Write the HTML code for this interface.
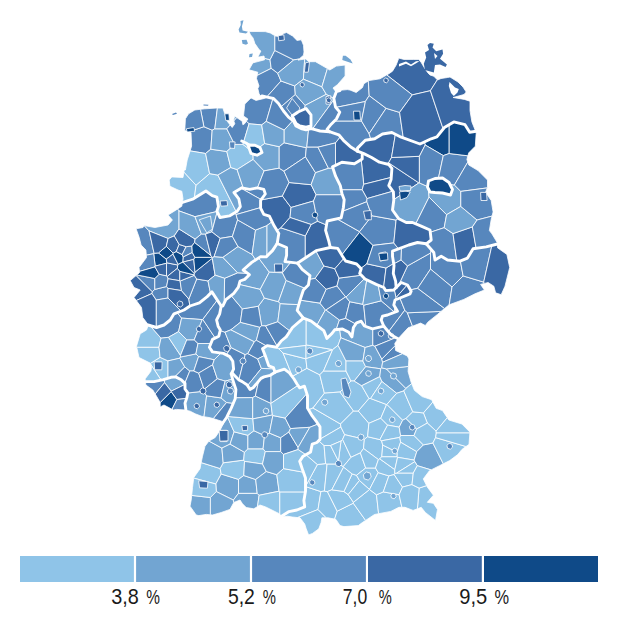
<!DOCTYPE html>
<html><head><meta charset="utf-8"><style>html,body{margin:0;padding:0;background:#fff;width:640px;height:640px;overflow:hidden}svg{display:block}</style></head>
<body><svg width="640" height="640" viewBox="0 0 640 640">
<g stroke="#fff" stroke-width="0.8" stroke-linejoin="round"><path d="M271.2,68.4 L270.0,59.7 L264.4,58.3 L264.6,59.8 L252.8,62.9 L249.0,69.8 L257.8,72.2 L257.1,75.5 L271.2,68.4Z" fill="#72a5d2"/><path d="M271.2,68.4 L277.7,73.3 L293.8,59.9 L274.7,50.4 L270.0,59.7 L271.2,68.4Z" fill="#5787bd"/><path d="M274.7,50.4 L293.8,59.9 L299.2,59.0 L303.5,55.2 L304.0,51.9 L303.5,45.3 L301.3,39.8 L297.0,40.4 L292.6,36.0 L286.5,32.5 L283.4,33.5 L280.2,36.6 L275.2,36.0 L274.7,35.6 L274.7,50.4Z" fill="#5787bd"/><path d="M259.0,57.0 L264.0,56.0 L264.4,58.3 L270.0,59.7 L274.7,50.4 L274.7,35.6 L270.2,32.9 L265.2,31.6 L256.0,31.5 L249.0,31.6 L250.5,34.8 L253.0,37.9 L254.9,43.5 L259.2,49.8 L260.9,51.0 L258.0,56.7 L259.0,57.0Z" fill="#72a5d2"/><path d="M281.0,81.0 L277.7,73.3 L271.2,68.4 L257.1,75.5 L256.5,78.5 L259.0,86.0 L257.8,88.5 L259.0,93.5 L260.0,95.5 L262.0,96.0 L266.7,97.1 L281.0,81.0Z" fill="#5787bd"/><path d="M302.8,126.6 L299.8,126.0 L296.0,123.5 L292.2,116.0 L298.0,112.0 L304.7,109.1 L305.1,105.4 L295.3,94.4 L280.8,106.9 L283.5,111.0 L288.5,117.2 L293.5,121.0 L296.0,126.0 L301.0,128.5 L302.6,128.9 L302.8,126.6Z" fill="#5787bd"/><path d="M266.7,97.1 L267.2,97.2 L273.5,98.5 L278.5,103.5 L280.8,106.9 L295.3,94.4 L294.7,85.9 L281.0,81.0 L266.7,97.1Z" fill="#5787bd"/><path d="M277.7,73.3 L281.0,81.0 L294.7,85.9 L303.4,79.2 L304.7,59.1 L298.0,60.1 L299.2,59.0 L293.8,59.9 L277.7,73.3Z" fill="#72a5d2"/><path d="M303.4,79.2 L321.9,86.9 L327.4,68.6 L315.5,61.7 L309.0,61.7 L305.7,59.0 L304.7,59.1 L303.4,79.2Z" fill="#72a5d2"/><path d="M295.3,94.4 L305.1,105.4 L326.3,94.3 L321.9,86.9 L303.4,79.2 L294.7,85.9 L295.3,94.4Z" fill="#72a5d2"/><path d="M304.7,109.1 L306.0,108.5 L311.0,114.8 L311.0,126.0 L306.0,127.2 L302.8,126.6 L302.6,128.9 L306.0,129.8 L311.0,128.5 L312.6,128.9 L334.0,99.6 L333.8,98.4 L333.8,98.3 L326.3,94.3 L305.1,105.4 L304.7,109.1Z" fill="#72a5d2"/><path d="M321.9,86.9 L326.3,94.3 L333.8,98.3 L336.2,92.2 L333.0,88.0 L337.4,84.7 L345.1,76.0 L345.1,65.0 L336.3,66.1 L329.8,70.0 L327.4,68.6 L321.9,86.9Z" fill="#72a5d2"/><path d="M312.6,128.9 L316.0,129.8 L320.0,131.0 L329.4,131.7 L327.0,129.4 L331.2,124.2 L336.4,119.0 L339.8,112.2 L335.5,107.0 L334.0,99.6 L312.6,128.9Z" fill="#5787bd"/><path d="M365.4,101.5 L369.2,95.6 L368.3,80.9 L363.8,83.8 L362.5,87.5 L356.2,92.5 L350.0,90.0 L347.3,89.6 L342.2,90.1 L339.8,90.7 L339.6,90.8 L336.3,92.4 L336.2,92.2 L333.8,98.4 L335.5,107.0 L335.9,107.4 L365.4,101.5Z" fill="#5787bd"/><path d="M369.1,133.7 L361.5,121.0 L334.4,121.0 L331.2,124.2 L327.0,129.4 L329.4,131.7 L338.8,134.8 L343.4,140.3 L351.2,147.3 L357.5,151.2 L357.5,148.1 L365.3,140.3 L370.9,139.4 L369.1,133.7Z" fill="#5787bd"/><path d="M412.3,94.9 L430.4,90.7 L437.3,79.8 L433.8,76.2 L430.0,75.0 L428.0,73.0 L425.0,68.8 L421.2,62.5 L418.8,59.4 L413.8,59.4 L403.8,59.4 L398.8,58.1 L396.2,65.0 L392.5,71.2 L388.8,73.8 L386.7,74.9 L412.3,94.9Z" fill="#3a68a4"/><path d="M365.4,101.5 L335.9,107.4 L339.8,112.2 L336.4,119.0 L334.4,121.0 L361.5,121.0 L365.4,101.5Z" fill="#5787bd"/><path d="M361.5,121.0 L369.1,133.7 L386.1,108.3 L369.2,95.6 L365.4,101.5 L361.5,121.0Z" fill="#5787bd"/><path d="M399.6,112.4 L386.1,108.3 L369.1,133.7 L370.9,139.4 L374.7,138.8 L382.5,134.0 L391.9,132.5 L401.2,137.2 L403.3,137.9 L399.6,112.4Z" fill="#5787bd"/><path d="M399.6,112.4 L412.3,94.9 L386.7,74.9 L380.0,78.8 L368.8,80.6 L368.3,80.9 L369.2,95.6 L386.1,108.3 L399.6,112.4Z" fill="#5787bd"/><path d="M430.4,90.7 L412.3,94.9 L399.6,112.4 L403.3,137.9 L420.0,144.0 L431.2,138.8 L436.9,136.9 L443.2,129.0 L430.4,90.7Z" fill="#3a68a4"/><path d="M430.4,90.7 L443.2,129.0 L444.4,127.5 L453.8,121.9 L465.0,124.7 L469.7,132.2 L475.6,131.3 L475.6,131.2 L471.9,121.9 L470.0,110.6 L470.0,101.2 L464.4,99.4 L453.1,97.5 L455.0,97.0 L464.0,94.5 L466.2,92.0 L463.0,87.0 L458.0,82.0 L450.0,77.0 L447.5,77.5 L441.0,78.5 L437.5,80.0 L437.3,79.8 L430.4,90.7Z" fill="#3a68a4"/><path d="M388.6,162.8 L391.5,157.5 L395.4,134.2 L391.9,132.5 L382.5,134.0 L374.7,138.8 L365.3,140.3 L357.5,148.1 L357.5,151.2 L362.2,153.0 L363.8,153.6 L371.6,157.5 L379.4,162.2 L386.4,163.9 L388.6,162.8Z" fill="#3a68a4"/><path d="M425.2,145.0 L443.3,155.6 L449.2,153.5 L449.2,124.6 L444.4,127.5 L436.9,136.9 L431.2,138.8 L424.3,142.0 L425.2,145.0Z" fill="#0f4a88"/><path d="M418.9,182.9 L388.6,162.8 L386.4,163.9 L388.8,164.5 L391.9,168.4 L391.1,179.4 L388.8,185.6 L393.4,191.9 L393.7,199.7 L418.9,182.9Z" fill="#3a68a4"/><path d="M418.9,182.9 L419.4,182.9 L419.4,156.3 L391.5,157.5 L388.6,162.8 L418.9,182.9Z" fill="#3a68a4"/><path d="M391.5,157.5 L419.4,156.3 L425.2,145.0 L424.3,142.0 L420.0,144.0 L401.2,137.2 L395.4,134.2 L391.5,157.5Z" fill="#3a68a4"/><path d="M429.1,197.1 L428.3,188.7 L427.5,187.0 L427.6,186.5 L419.4,182.9 L418.9,182.9 L393.7,199.7 L393.8,200.0 L392.5,210.0 L398.8,218.8 L406.2,222.5 L412.5,222.5 L415.7,223.9 L429.1,197.1Z" fill="#72a5d2"/><path d="M419.4,182.9 L427.6,186.5 L428.5,181.0 L435.0,178.5 L438.4,178.3 L443.3,155.6 L425.2,145.0 L419.4,156.3 L419.4,182.9Z" fill="#5787bd"/><path d="M415.7,223.9 L421.2,226.2 L430.0,230.0 L430.3,232.3 L444.2,227.7 L446.6,214.7 L429.1,197.1 L415.7,223.9Z" fill="#5787bd"/><path d="M446.6,214.7 L460.8,206.4 L460.8,191.4 L454.4,185.0 L449.9,184.4 L452.5,189.5 L450.5,195.0 L442.5,193.0 L435.0,192.5 L430.0,192.0 L428.3,188.7 L429.1,197.1 L446.6,214.7Z" fill="#72a5d2"/><path d="M453.0,233.6 L444.2,227.7 L430.3,232.3 L431.2,240.0 L426.2,243.8 L433.8,252.5 L435.0,260.0 L441.2,256.2 L447.5,260.0 L456.8,260.9 L453.0,233.6Z" fill="#5787bd"/><path d="M472.4,226.9 L453.0,233.6 L456.8,260.9 L460.0,261.2 L467.5,258.1 L473.1,248.8 L476.1,248.3 L472.4,226.9Z" fill="#3a68a4"/><path d="M446.6,214.7 L444.2,227.7 L453.0,233.6 L472.4,226.9 L477.1,220.0 L460.8,206.4 L446.6,214.7Z" fill="#72a5d2"/><path d="M438.4,178.3 L442.5,178.0 L449.0,182.5 L449.9,184.4 L454.4,185.0 L467.8,162.1 L466.9,159.4 L467.9,155.8 L449.2,153.5 L443.3,155.6 L438.4,178.3Z" fill="#5787bd"/><path d="M454.4,185.0 L460.8,191.4 L487.3,187.9 L487.5,187.5 L487.5,180.0 L478.1,170.6 L468.8,165.0 L467.8,162.1 L454.4,185.0Z" fill="#5787bd"/><path d="M449.2,153.5 L467.9,155.8 L468.8,152.8 L475.3,146.2 L476.2,133.1 L475.6,131.3 L469.7,132.2 L465.0,124.7 L453.8,121.9 L449.2,124.6 L449.2,153.5Z" fill="#0f4a88"/><path d="M460.8,191.4 L460.8,206.4 L477.1,220.0 L492.1,216.1 L493.1,211.9 L491.2,200.6 L485.6,192.2 L487.3,187.9 L460.8,191.4Z" fill="#5787bd"/><path d="M477.1,220.0 L472.4,226.9 L476.1,248.3 L486.2,246.9 L497.5,244.0 L497.5,243.1 L491.9,233.8 L489.4,230.6 L491.2,219.4 L492.1,216.1 L477.1,220.0Z" fill="#5787bd"/><path d="M404.8,310.2 L399.9,298.0 L395.0,300.0 L393.8,305.0 L397.5,311.2 L387.5,315.0 L382.5,316.2 L381.2,320.0 L383.8,326.2 L388.5,331.7 L404.8,310.2Z" fill="#5787bd"/><path d="M417.7,288.3 L430.5,269.1 L430.5,253.0 L407.5,265.9 L398.6,285.2 L401.2,282.5 L407.5,285.0 L410.4,289.9 L417.7,288.3Z" fill="#5787bd"/><path d="M401.1,260.0 L401.5,247.8 L392.5,251.2 L392.5,256.2 L393.7,264.0 L401.1,260.0Z" fill="#5787bd"/><path d="M407.5,265.9 L401.1,260.0 L393.7,264.0 L394.0,265.6 L393.3,273.4 L395.6,281.2 L396.2,287.5 L398.0,285.7 L398.6,285.2 L407.5,265.9Z" fill="#3a68a4"/><path d="M407.4,312.8 L404.8,310.2 L388.5,331.7 L391.2,335.0 L398.0,338.8 L408.1,327.8 L412.5,326.2 L407.4,312.8Z" fill="#5787bd"/><path d="M407.4,312.8 L412.5,326.2 L420.6,323.1 L425.3,325.5 L428.1,321.9 L437.5,314.4 L441.0,311.4 L407.4,312.8Z" fill="#5787bd"/><path d="M401.1,260.0 L407.5,265.9 L430.5,253.0 L431.4,249.8 L426.2,243.8 L417.5,242.5 L408.8,245.0 L401.5,247.8 L401.1,260.0Z" fill="#5787bd"/><path d="M430.5,269.1 L452.0,287.0 L463.1,275.9 L460.4,261.1 L460.0,261.2 L447.5,260.0 L441.2,256.2 L435.0,260.0 L433.8,252.5 L431.4,249.8 L430.5,253.0 L430.5,269.1Z" fill="#5787bd"/><path d="M404.8,310.2 L407.4,312.8 L441.0,311.4 L444.6,308.5 L417.7,288.3 L410.4,289.9 L411.2,291.2 L410.0,293.8 L401.2,297.5 L399.9,298.0 L404.8,310.2Z" fill="#5787bd"/><path d="M452.0,287.0 L430.5,269.1 L417.7,288.3 L444.6,308.5 L448.8,305.0 L449.2,304.8 L452.0,287.0Z" fill="#5787bd"/><path d="M483.7,282.1 L463.1,275.9 L452.0,287.0 L449.2,304.8 L463.8,299.4 L475.0,293.8 L484.4,290.0 L480.6,284.4 L484.6,283.4 L483.7,282.1Z" fill="#5787bd"/><path d="M463.1,275.9 L483.7,282.1 L491.9,245.5 L486.2,246.9 L473.1,248.8 L467.5,258.1 L460.4,261.1 L463.1,275.9Z" fill="#5787bd"/><path d="M483.7,282.1 L484.6,283.4 L488.1,282.5 L493.8,286.2 L495.6,292.8 L501.2,294.7 L505.0,286.2 L509.7,267.5 L506.9,254.4 L497.5,247.8 L497.5,244.0 L491.9,245.5 L483.7,282.1Z" fill="#3a68a4"/><path d="M292.4,376.3 L283.1,353.1 L278.7,348.7 L276.0,347.1 L267.2,345.6 L262.5,348.8 L265.6,356.6 L268.8,365.9 L273.4,367.5 L275.0,372.2 L284.4,369.1 L289.4,372.8 L292.2,376.6 L292.4,376.3Z" fill="#8fc4e8"/><path d="M318.0,509.5 L320.9,491.6 L305.5,486.5 L305.5,491.2 L303.9,500.6 L304.7,506.9 L296.9,510.0 L289.0,511.6 L281.2,516.5 L281.1,516.6 L281.2,517.0 L287.5,516.2 L292.2,517.0 L297.7,517.6 L318.0,509.5Z" fill="#8fc4e8"/><path d="M278.7,348.7 L306.0,345.5 L306.2,344.9 L306.2,319.2 L303.4,318.1 L292.5,327.5 L286.2,336.9 L281.2,341.0 L276.6,347.2 L276.0,347.1 L278.7,348.7Z" fill="#8fc4e8"/><path d="M292.2,376.6 L294.0,379.0 L297.0,384.0 L299.7,387.8 L304.4,386.2 L307.5,395.6 L307.5,408.1 L308.6,409.9 L313.0,408.0 L324.4,393.2 L319.8,374.8 L306.9,368.3 L292.4,376.3 L292.2,376.6Z" fill="#8fc4e8"/><path d="M292.4,376.3 L306.9,368.3 L305.9,358.8 L283.1,353.1 L292.4,376.3Z" fill="#8fc4e8"/><path d="M306.0,358.5 L306.0,345.5 L278.7,348.7 L283.1,353.1 L305.9,358.8 L306.0,358.5Z" fill="#8fc4e8"/><path d="M305.9,358.8 L306.9,368.3 L319.8,374.8 L323.5,371.0 L332.7,349.6 L306.0,358.5 L305.9,358.8Z" fill="#8fc4e8"/><path d="M340.8,337.8 L365.1,347.5 L372.8,345.3 L372.8,328.7 L372.5,328.8 L364.4,326.0 L361.2,321.2 L356.6,322.8 L353.4,327.5 L351.9,336.9 L348.8,332.2 L342.5,329.0 L339.4,329.3 L340.8,337.8Z" fill="#72a5d2"/><path d="M306.0,358.5 L332.7,349.6 L332.7,349.6 L306.2,344.9 L306.0,345.5 L306.0,358.5Z" fill="#8fc4e8"/><path d="M305.5,486.4 L305.5,486.5 L320.9,491.6 L324.4,491.1 L327.1,464.2 L325.6,463.6 L317.4,464.5 L305.5,486.4Z" fill="#8fc4e8"/><path d="M317.4,464.5 L306.0,454.7 L302.8,456.6 L299.7,461.2 L302.8,470.6 L305.5,478.0 L305.5,486.4 L317.4,464.5Z" fill="#8fc4e8"/><path d="M340.9,427.0 L340.5,424.0 L313.0,408.0 L308.6,409.9 L312.2,415.9 L316.9,422.2 L320.0,426.9 L320.0,439.2 L340.9,427.0Z" fill="#8fc4e8"/><path d="M318.0,509.5 L297.7,517.6 L300.0,517.8 L304.7,524.0 L306.2,528.8 L308.6,535.0 L312.5,533.4 L318.8,528.8 L321.1,522.5 L321.9,517.8 L326.3,517.8 L318.0,509.5Z" fill="#8fc4e8"/><path d="M320.9,491.6 L318.0,509.5 L326.3,517.8 L328.1,517.8 L334.6,519.1 L337.2,511.2 L327.4,491.6 L324.4,491.1 L320.9,491.6Z" fill="#8fc4e8"/><path d="M306.2,344.9 L332.7,349.6 L338.1,345.3 L340.8,337.8 L339.4,329.3 L334.7,329.8 L331.6,333.8 L326.9,338.4 L323.8,330.6 L317.5,326.0 L311.2,321.2 L306.2,319.2 L306.2,344.9Z" fill="#8fc4e8"/><path d="M324.4,393.2 L340.0,392.0 L351.0,381.0 L346.0,371.0 L323.5,371.0 L319.8,374.8 L324.4,393.2Z" fill="#8fc4e8"/><path d="M317.4,464.5 L325.6,463.6 L324.1,445.5 L318.6,440.8 L316.9,442.5 L312.2,444.1 L310.6,451.9 L306.0,454.7 L317.4,464.5Z" fill="#8fc4e8"/><path d="M332.7,349.6 L323.5,371.0 L346.0,371.0 L346.0,361.0 L338.1,345.3 L332.7,349.6 L332.7,349.6Z" fill="#8fc4e8"/><path d="M325.6,463.6 L327.1,464.2 L338.8,464.2 L338.4,461.0 L330.6,445.5 L324.1,445.5 L325.6,463.6Z" fill="#8fc4e8"/><path d="M324.1,445.5 L330.6,445.5 L341.0,441.0 L342.6,439.4 L344.7,434.7 L340.9,427.0 L320.0,439.2 L320.0,439.4 L318.6,440.8 L324.1,445.5Z" fill="#8fc4e8"/><path d="M353.3,503.2 L337.2,511.2 L334.6,519.1 L335.9,519.4 L340.0,525.6 L344.0,526.6 L358.3,525.6 L362.3,522.6 L365.6,520.4 L353.3,503.2Z" fill="#8fc4e8"/><path d="M338.8,464.2 L327.1,464.2 L324.4,491.1 L327.4,491.6 L331.8,489.8 L343.6,467.1 L343.3,466.5 L338.8,464.2Z" fill="#8fc4e8"/><path d="M343.3,466.5 L351.0,457.3 L342.6,439.4 L341.0,441.0 L338.4,461.0 L338.8,464.2 L343.3,466.5Z" fill="#8fc4e8"/><path d="M340.5,424.0 L353.5,411.0 L340.0,392.0 L324.4,393.2 L313.0,408.0 L340.5,424.0Z" fill="#8fc4e8"/><path d="M330.6,445.5 L338.4,461.0 L341.0,441.0 L330.6,445.5Z" fill="#8fc4e8"/><path d="M327.4,491.6 L337.2,511.2 L353.3,503.2 L353.4,502.3 L348.2,494.6 L343.9,491.5 L331.8,489.8 L327.4,491.6Z" fill="#8fc4e8"/><path d="M338.1,345.3 L346.0,361.0 L362.9,361.0 L365.1,347.5 L340.8,337.8 L338.1,345.3Z" fill="#72a5d2"/><path d="M351.0,381.0 L354.2,381.0 L365.7,366.7 L362.9,361.0 L346.0,361.0 L346.0,371.0 L351.0,381.0Z" fill="#8fc4e8"/><path d="M340.9,427.0 L344.7,434.7 L364.4,439.3 L367.6,436.7 L368.9,423.3 L358.3,411.0 L353.5,411.0 L340.5,424.0 L340.9,427.0Z" fill="#8fc4e8"/><path d="M348.2,494.6 L359.5,480.5 L356.5,475.3 L352.1,473.9 L343.9,491.5 L348.2,494.6Z" fill="#8fc4e8"/><path d="M331.8,489.8 L343.9,491.5 L352.1,473.9 L343.6,467.1 L331.8,489.8Z" fill="#8fc4e8"/><path d="M342.6,439.4 L351.0,457.3 L360.4,452.9 L363.5,448.5 L364.4,439.3 L344.7,434.7 L342.6,439.4Z" fill="#8fc4e8"/><path d="M343.3,466.5 L343.6,467.1 L352.1,473.9 L356.5,475.3 L365.7,468.0 L360.4,452.9 L351.0,457.3 L343.3,466.5Z" fill="#8fc4e8"/><path d="M353.4,502.3 L353.3,503.2 L365.6,520.4 L374.5,514.5 L378.6,513.7 L376.5,494.8 L369.5,489.5 L353.4,502.3Z" fill="#8fc4e8"/><path d="M369.5,489.5 L369.5,489.4 L359.5,480.5 L348.2,494.6 L353.4,502.3 L369.5,489.5Z" fill="#8fc4e8"/><path d="M353.5,411.0 L358.3,411.0 L369.0,398.5 L361.7,385.7 L354.2,381.0 L351.0,381.0 L340.0,392.0 L353.5,411.0Z" fill="#8fc4e8"/><path d="M363.5,448.5 L378.4,459.6 L379.7,458.8 L381.8,456.8 L382.7,445.0 L381.6,440.8 L379.9,439.6 L367.6,436.7 L364.4,439.3 L363.5,448.5Z" fill="#8fc4e8"/><path d="M365.7,366.7 L380.7,368.8 L381.7,367.8 L382.6,362.3 L381.8,359.0 L374.9,346.2 L372.8,345.3 L365.1,347.5 L362.9,361.0 L365.7,366.7Z" fill="#72a5d2"/><path d="M354.2,381.0 L361.7,385.7 L379.8,376.6 L380.7,368.8 L365.7,366.7 L354.2,381.0Z" fill="#72a5d2"/><path d="M356.5,475.3 L359.5,480.5 L369.5,489.4 L378.2,472.6 L375.5,468.0 L365.7,468.0 L356.5,475.3Z" fill="#8fc4e8"/><path d="M369.0,398.5 L370.6,398.5 L381.9,381.5 L379.8,376.6 L361.7,385.7 L369.0,398.5Z" fill="#8fc4e8"/><path d="M360.4,452.9 L365.7,468.0 L375.5,468.0 L378.4,459.6 L363.5,448.5 L360.4,452.9Z" fill="#8fc4e8"/><path d="M399.1,494.7 L383.3,491.9 L376.5,494.8 L378.6,513.7 L390.8,511.4 L398.9,507.3 L401.9,507.3 L399.1,494.7Z" fill="#8fc4e8"/><path d="M368.9,423.3 L380.8,418.2 L386.6,404.5 L370.6,398.5 L369.0,398.5 L358.3,411.0 L368.9,423.3Z" fill="#8fc4e8"/><path d="M369.5,489.4 L369.5,489.5 L376.5,494.8 L383.3,491.9 L388.9,475.9 L378.2,472.6 L369.5,489.4Z" fill="#8fc4e8"/><path d="M372.8,345.3 L374.9,346.2 L396.0,337.6 L391.2,335.0 L383.8,326.2 L372.8,328.7 L372.8,345.3Z" fill="#5787bd"/><path d="M381.8,359.0 L382.6,362.3 L402.5,353.7 L395.6,350.5 L395.1,345.7 L381.8,359.0Z" fill="#5787bd"/><path d="M379.8,376.6 L381.9,381.5 L396.7,393.3 L403.8,390.9 L405.9,388.4 L386.4,368.9 L381.7,367.8 L380.7,368.8 L379.8,376.6Z" fill="#72a5d2"/><path d="M386.6,404.5 L386.9,404.4 L396.7,393.3 L381.9,381.5 L370.6,398.5 L386.6,404.5Z" fill="#8fc4e8"/><path d="M375.5,468.0 L378.2,472.6 L388.9,475.9 L394.2,474.6 L394.8,473.5 L394.8,469.6 L379.7,458.8 L378.4,459.6 L375.5,468.0Z" fill="#8fc4e8"/><path d="M367.6,436.7 L379.9,439.6 L387.6,425.1 L380.8,418.2 L368.9,423.3 L367.6,436.7Z" fill="#8fc4e8"/><path d="M380.8,418.2 L387.6,425.1 L399.2,427.2 L402.7,420.2 L386.9,404.4 L386.6,404.5 L380.8,418.2Z" fill="#8fc4e8"/><path d="M381.8,359.0 L395.1,345.7 L394.8,343.4 L398.0,338.8 L396.0,337.6 L374.9,346.2 L381.8,359.0Z" fill="#5787bd"/><path d="M383.3,491.9 L399.1,494.7 L402.5,487.1 L394.2,474.6 L388.9,475.9 L383.3,491.9Z" fill="#8fc4e8"/><path d="M381.6,440.8 L399.8,437.4 L400.6,435.5 L399.2,427.2 L387.6,425.1 L379.9,439.6 L381.6,440.8Z" fill="#8fc4e8"/><path d="M381.8,456.8 L397.2,456.8 L397.2,452.2 L382.7,445.0 L381.8,456.8Z" fill="#8fc4e8"/><path d="M379.7,458.8 L394.8,469.6 L397.6,457.3 L397.2,456.8 L381.8,456.8 L379.7,458.8Z" fill="#8fc4e8"/><path d="M382.7,445.0 L397.2,452.2 L400.6,442.1 L399.8,437.4 L381.6,440.8 L382.7,445.0Z" fill="#8fc4e8"/><path d="M419.1,488.1 L417.4,508.8 L421.2,507.3 L425.3,512.4 L435.5,520.5 L437.5,509.4 L433.4,503.3 L427.3,502.3 L433.4,495.2 L427.3,487.0 L426.6,485.6 L419.1,488.1Z" fill="#8fc4e8"/><path d="M402.5,487.1 L412.0,484.6 L413.3,473.0 L396.8,473.0 L394.8,473.5 L394.2,474.6 L402.5,487.1Z" fill="#8fc4e8"/><path d="M423.4,412.9 L427.3,423.1 L436.1,431.1 L447.3,417.7 L442.5,410.6 L436.2,408.3 L432.8,402.0 L423.4,412.9Z" fill="#8fc4e8"/><path d="M405.9,388.4 L411.7,383.6 L411.2,382.5 L408.1,371.6 L408.4,366.4 L386.4,368.9 L405.9,388.4Z" fill="#72a5d2"/><path d="M381.7,367.8 L386.4,368.9 L408.4,366.4 L408.9,359.0 L407.3,356.0 L402.5,353.7 L382.6,362.3 L381.7,367.8Z" fill="#72a5d2"/><path d="M396.7,393.3 L386.9,404.4 L402.7,420.2 L406.0,418.5 L412.8,411.8 L403.8,390.9 L396.7,393.3Z" fill="#8fc4e8"/><path d="M397.6,457.3 L414.1,460.1 L416.8,451.6 L400.6,442.1 L397.2,452.2 L397.2,456.8 L397.6,457.3Z" fill="#8fc4e8"/><path d="M394.8,473.5 L396.8,473.0 L414.8,461.7 L414.1,460.1 L397.6,457.3 L394.8,469.6 L394.8,473.5Z" fill="#8fc4e8"/><path d="M400.6,435.5 L414.0,435.5 L416.6,429.1 L406.0,418.5 L402.7,420.2 L399.2,427.2 L400.6,435.5Z" fill="#72a5d2"/><path d="M406.0,418.5 L416.6,429.1 L427.3,423.1 L423.4,412.9 L412.8,411.8 L406.0,418.5Z" fill="#8fc4e8"/><path d="M399.8,437.4 L400.6,442.1 L416.8,451.6 L423.4,444.9 L414.0,435.5 L400.6,435.5 L399.8,437.4Z" fill="#8fc4e8"/><path d="M412.8,411.8 L423.4,412.9 L432.8,402.0 L431.6,399.7 L422.2,396.6 L414.4,390.3 L411.7,383.6 L405.9,388.4 L403.8,390.9 L412.8,411.8Z" fill="#8fc4e8"/><path d="M414.8,461.7 L417.3,465.7 L431.1,469.9 L439.5,465.7 L443.3,463.8 L432.9,443.0 L423.4,444.9 L416.8,451.6 L414.1,460.1 L414.8,461.7Z" fill="#72a5d2"/><path d="M399.1,494.7 L401.9,507.3 L405.0,507.3 L413.1,510.4 L417.4,508.8 L419.1,488.1 L412.0,484.6 L402.5,487.1 L399.1,494.7Z" fill="#8fc4e8"/><path d="M396.8,473.0 L413.3,473.0 L417.3,465.7 L414.8,461.7 L396.8,473.0Z" fill="#8fc4e8"/><path d="M413.3,473.0 L412.0,484.6 L419.1,488.1 L426.6,485.6 L423.3,478.9 L429.4,470.8 L431.1,469.9 L417.3,465.7 L413.3,473.0Z" fill="#8fc4e8"/><path d="M423.4,444.9 L432.9,443.0 L435.6,437.6 L436.3,433.0 L436.1,431.1 L427.3,423.1 L416.6,429.1 L414.0,435.5 L423.4,444.9Z" fill="#8fc4e8"/><path d="M436.1,431.1 L436.3,433.0 L469.9,433.0 L470.0,432.2 L461.9,424.0 L448.8,420.0 L447.3,417.7 L436.1,431.1Z" fill="#8fc4e8"/><path d="M435.6,437.6 L432.9,443.0 L443.3,463.8 L449.7,460.6 L457.8,454.5 L461.9,449.5 L466.0,446.5 L435.6,437.6Z" fill="#8fc4e8"/><path d="M436.3,433.0 L435.6,437.6 L466.0,446.5 L469.0,444.4 L469.9,433.0 L436.3,433.0Z" fill="#8fc4e8"/><path d="M210.4,497.5 L191.7,495.4 L191.2,500.0 L190.0,506.2 L196.2,515.0 L198.8,515.6 L206.2,514.4 L210.4,514.8 L210.4,497.5Z" fill="#72a5d2"/><path d="M215.8,484.0 L221.2,474.0 L220.1,468.5 L201.2,462.6 L200.0,468.8 L193.8,477.5 L193.7,478.1 L215.8,484.0Z" fill="#8fc4e8"/><path d="M215.8,484.0 L216.3,491.6 L233.4,500.1 L238.5,493.3 L238.5,479.4 L221.2,474.0 L215.8,484.0Z" fill="#72a5d2"/><path d="M210.4,497.5 L216.3,491.6 L215.8,484.0 L193.7,478.1 L192.5,487.5 L191.7,495.4 L210.4,497.5Z" fill="#8fc4e8"/><path d="M233.4,500.1 L216.3,491.6 L210.4,497.5 L210.4,514.8 L212.5,515.0 L221.2,512.5 L230.0,509.4 L233.8,502.5 L233.8,502.5 L233.4,500.1Z" fill="#72a5d2"/><path d="M221.2,474.0 L238.5,479.4 L243.8,475.5 L244.5,461.4 L243.7,460.1 L223.2,462.8 L220.1,468.5 L221.2,474.0Z" fill="#8fc4e8"/><path d="M220.1,468.5 L223.2,462.8 L221.9,448.1 L209.0,441.1 L208.8,441.2 L205.0,446.2 L202.5,456.2 L201.2,462.6 L220.1,468.5Z" fill="#72a5d2"/><path d="M233.4,500.1 L233.8,502.5 L240.0,500.0 L242.5,503.8 L246.2,507.5 L253.8,508.8 L257.5,506.5 L259.1,495.3 L257.2,493.3 L238.5,493.3 L233.4,500.1Z" fill="#72a5d2"/><path d="M221.9,448.1 L230.1,444.1 L234.1,431.8 L227.3,416.4 L227.2,416.3 L226.6,417.5 L223.3,422.2 L224.0,422.5 L220.2,430.0 L215.2,437.5 L209.0,441.1 L221.9,448.1Z" fill="#72a5d2"/><path d="M252.7,397.6 L255.4,396.0 L258.6,381.3 L253.1,387.8 L250.0,389.4 L246.9,384.7 L242.2,381.6 L239.0,380.0 L232.8,373.8 L231.2,373.8 L232.8,380.0 L235.9,389.4 L235.3,397.8 L252.7,397.6Z" fill="#5787bd"/><path d="M238.5,479.4 L238.5,493.3 L257.2,493.3 L255.7,479.5 L243.8,475.5 L238.5,479.4Z" fill="#72a5d2"/><path d="M223.2,462.8 L243.7,460.1 L244.4,452.2 L230.1,444.1 L221.9,448.1 L223.2,462.8Z" fill="#72a5d2"/><path d="M244.5,461.4 L262.5,464.0 L265.3,451.6 L263.1,448.8 L247.9,448.8 L244.4,452.2 L243.7,460.1 L244.5,461.4Z" fill="#8fc4e8"/><path d="M247.9,448.8 L247.9,435.3 L234.1,431.8 L230.1,444.1 L244.4,452.2 L247.9,448.8Z" fill="#72a5d2"/><path d="M243.8,475.5 L255.7,479.5 L266.3,471.5 L262.5,464.0 L244.5,461.4 L243.8,475.5Z" fill="#72a5d2"/><path d="M247.9,448.8 L263.1,448.8 L264.5,435.6 L253.9,430.7 L247.9,435.3 L247.9,448.8Z" fill="#72a5d2"/><path d="M247.9,435.3 L253.9,430.7 L252.9,418.9 L252.7,418.7 L227.3,416.4 L234.1,431.8 L247.9,435.3Z" fill="#8fc4e8"/><path d="M227.3,416.4 L252.7,418.7 L252.7,397.6 L235.3,397.8 L235.2,398.8 L231.2,408.1 L227.2,416.3 L227.3,416.4Z" fill="#72a5d2"/><path d="M265.3,451.6 L280.7,451.6 L280.7,437.8 L269.4,433.1 L264.5,435.6 L263.1,448.8 L265.3,451.6Z" fill="#72a5d2"/><path d="M257.2,493.3 L259.1,495.3 L279.1,491.2 L276.8,474.7 L266.3,471.5 L255.7,479.5 L257.2,493.3Z" fill="#72a5d2"/><path d="M279.8,491.9 L279.1,491.2 L259.1,495.3 L257.5,506.5 L260.0,505.0 L265.6,506.9 L279.7,513.9 L279.8,514.0 L279.8,491.9Z" fill="#8fc4e8"/><path d="M252.9,418.9 L272.4,415.0 L270.9,403.4 L270.8,403.3 L255.4,396.0 L252.7,397.6 L252.7,418.7 L252.9,418.9Z" fill="#72a5d2"/><path d="M264.5,435.6 L269.4,433.1 L272.9,415.5 L272.4,415.0 L252.9,418.9 L253.9,430.7 L264.5,435.6Z" fill="#72a5d2"/><path d="M266.3,471.5 L276.8,474.7 L283.5,468.6 L283.5,454.4 L280.7,451.6 L265.3,451.6 L262.5,464.0 L266.3,471.5Z" fill="#72a5d2"/><path d="M270.8,403.3 L270.9,403.4 L298.0,385.4 L297.0,384.0 L294.0,379.0 L289.4,372.8 L284.4,369.1 L275.0,372.2 L270.8,375.0 L270.8,403.3Z" fill="#72a5d2"/><path d="M270.8,403.3 L270.8,375.0 L270.3,375.3 L264.0,376.9 L261.0,378.4 L258.6,381.3 L255.4,396.0 L270.8,403.3Z" fill="#5787bd"/><path d="M279.8,491.9 L279.8,514.0 L281.1,516.6 L281.2,516.5 L289.0,511.6 L296.9,510.0 L304.7,506.9 L303.9,500.6 L305.4,491.9 L279.8,491.9Z" fill="#8fc4e8"/><path d="M279.8,491.9 L305.4,491.9 L305.5,491.2 L305.5,478.0 L303.4,472.2 L283.5,468.6 L276.8,474.7 L279.1,491.2 L279.8,491.9Z" fill="#8fc4e8"/><path d="M280.7,437.8 L288.9,432.1 L290.5,428.6 L285.2,418.1 L272.9,415.5 L269.4,433.1 L280.7,437.8Z" fill="#72a5d2"/><path d="M272.9,415.5 L285.2,418.1 L306.9,393.7 L304.4,386.2 L299.7,387.8 L298.0,385.4 L270.9,403.4 L272.4,415.0 L272.9,415.5Z" fill="#8fc4e8"/><path d="M283.5,454.4 L298.2,449.5 L298.1,447.5 L288.9,432.1 L280.7,437.8 L280.7,451.6 L283.5,454.4Z" fill="#5787bd"/><path d="M285.2,418.1 L290.5,428.6 L309.8,427.3 L318.1,424.0 L316.9,422.2 L312.2,415.9 L307.5,408.1 L307.5,395.6 L306.9,393.7 L285.2,418.1Z" fill="#5787bd"/><path d="M288.9,432.1 L298.1,447.5 L309.8,427.3 L290.5,428.6 L288.9,432.1Z" fill="#72a5d2"/><path d="M283.5,468.6 L303.4,472.2 L302.8,470.6 L299.7,461.2 L302.8,456.6 L306.0,454.7 L298.2,449.5 L283.5,454.4 L283.5,468.6Z" fill="#8fc4e8"/><path d="M309.8,427.3 L298.1,447.5 L298.2,449.5 L306.0,454.7 L310.6,451.9 L312.2,444.1 L316.9,442.5 L320.0,439.4 L320.0,426.9 L318.1,424.0 L309.8,427.3Z" fill="#72a5d2"/><path d="M150.3,363.4 L150.6,364.2 L161.2,380.2 L163.4,379.7 L168.0,378.2 L168.0,360.9 L160.1,357.3 L150.3,363.4Z" fill="#8fc4e8"/><path d="M160.1,357.3 L159.0,347.2 L136.7,347.2 L139.0,357.5 L150.2,363.1 L150.3,363.4 L160.1,357.3Z" fill="#8fc4e8"/><path d="M159.0,347.2 L161.0,338.2 L150.0,325.6 L148.4,325.1 L146.5,330.0 L140.2,333.8 L136.5,346.2 L136.7,347.2 L159.0,347.2Z" fill="#8fc4e8"/><path d="M161.0,338.2 L168.5,337.3 L178.6,331.6 L181.6,318.1 L177.1,312.6 L174.0,313.8 L170.2,320.0 L164.0,325.0 L156.5,327.5 L150.0,325.6 L161.0,338.2Z" fill="#5787bd"/><path d="M150.6,364.2 L151.5,367.5 L150.9,371.2 L145.2,378.8 L145.2,381.2 L145.3,381.6 L145.6,381.6 L154.1,381.6 L161.2,380.2 L150.6,364.2Z" fill="#8fc4e8"/><path d="M159.0,347.2 L160.1,357.3 L168.0,360.9 L179.8,358.2 L180.5,357.0 L180.5,355.4 L168.5,337.3 L161.0,338.2 L159.0,347.2Z" fill="#72a5d2"/><path d="M189.8,371.0 L184.7,366.8 L174.5,377.0 L175.6,376.9 L181.2,379.7 L184.8,383.3 L189.8,371.0Z" fill="#5787bd"/><path d="M168.0,378.2 L170.9,377.3 L174.5,377.0 L184.7,366.8 L179.8,358.2 L168.0,360.9 L168.0,378.2Z" fill="#72a5d2"/><path d="M181.6,318.1 L202.3,319.6 L202.8,319.4 L217.3,300.1 L215.0,296.6 L211.9,291.9 L207.2,296.6 L199.4,302.8 L190.0,306.0 L184.0,310.0 L177.1,312.6 L181.6,318.1Z" fill="#5787bd"/><path d="M180.5,355.4 L186.8,339.8 L178.6,331.6 L168.5,337.3 L180.5,355.4Z" fill="#8fc4e8"/><path d="M179.8,358.2 L184.7,366.8 L189.8,371.0 L193.8,371.0 L198.6,356.6 L195.9,353.9 L180.5,357.0 L179.8,358.2Z" fill="#72a5d2"/><path d="M180.5,355.4 L180.5,357.0 L195.9,353.9 L198.0,343.5 L194.2,339.8 L186.8,339.8 L180.5,355.4Z" fill="#5787bd"/><path d="M206.6,395.8 L203.6,391.2 L187.8,393.0 L186.9,397.5 L185.0,403.1 L185.9,410.0 L185.9,410.2 L190.2,411.2 L195.2,413.8 L201.5,416.2 L204.0,416.7 L206.6,395.8Z" fill="#72a5d2"/><path d="M198.6,356.6 L214.2,359.8 L220.9,353.1 L212.5,351.9 L209.4,347.2 L210.9,343.5 L198.0,343.5 L195.9,353.9 L198.6,356.6Z" fill="#72a5d2"/><path d="M186.8,339.8 L194.2,339.8 L202.3,319.6 L181.6,318.1 L178.6,331.6 L186.8,339.8Z" fill="#72a5d2"/><path d="M198.0,343.5 L210.9,343.5 L212.5,339.4 L215.2,338.0 L202.8,319.4 L202.3,319.6 L194.2,339.8 L198.0,343.5Z" fill="#5787bd"/><path d="M184.8,383.3 L185.0,383.4 L185.0,389.0 L187.8,392.8 L187.8,393.0 L203.6,391.2 L204.1,389.4 L198.7,373.1 L193.8,371.0 L189.8,371.0 L184.8,383.3Z" fill="#5787bd"/><path d="M193.8,371.0 L198.7,373.1 L212.6,364.8 L214.2,359.8 L198.6,356.6 L193.8,371.0Z" fill="#5787bd"/><path d="M204.0,416.7 L209.0,417.5 L213.4,418.6 L226.6,402.5 L221.0,397.9 L206.6,395.8 L204.0,416.7Z" fill="#72a5d2"/><path d="M198.7,373.1 L204.1,389.4 L217.3,378.8 L212.6,364.8 L198.7,373.1Z" fill="#5787bd"/><path d="M202.8,319.4 L215.2,338.0 L218.8,336.2 L220.3,330.0 L218.1,326.2 L216.6,320.0 L219.7,313.8 L221.2,306.0 L217.3,300.1 L202.8,319.4Z" fill="#5787bd"/><path d="M214.2,359.8 L212.6,364.8 L217.3,378.8 L225.2,381.1 L232.6,379.2 L231.2,373.8 L231.8,372.7 L233.6,369.1 L232.8,361.2 L229.7,356.6 L223.4,353.4 L220.9,353.1 L214.2,359.8Z" fill="#72a5d2"/><path d="M203.6,391.2 L206.6,395.8 L221.0,397.9 L225.2,381.1 L217.3,378.8 L204.1,389.4 L203.6,391.2Z" fill="#5787bd"/><path d="M226.6,402.5 L213.4,418.6 L214.0,418.8 L221.5,421.2 L223.3,422.2 L226.6,417.5 L231.2,408.1 L233.3,403.3 L226.6,402.5Z" fill="#5787bd"/><path d="M225.2,381.1 L221.0,397.9 L226.6,402.5 L233.3,403.3 L235.2,398.8 L235.9,389.4 L232.8,380.0 L232.6,379.2 L225.2,381.1Z" fill="#72a5d2"/><path d="M164.6,382.7 L164.2,379.5 L163.4,379.7 L154.1,381.6 L145.6,381.6 L145.3,381.6 L145.9,385.0 L152.8,390.0 L155.2,394.0 L164.6,382.7Z" fill="#5787bd"/><path d="M164.6,382.7 L171.2,391.2 L185.0,384.4 L185.0,383.4 L181.2,379.7 L175.6,376.9 L170.9,377.3 L164.2,379.5 L164.6,382.7Z" fill="#72a5d2"/><path d="M176.9,399.5 L171.2,391.5 L160.2,402.5 L160.2,406.9 L164.0,405.0 L172.0,409.3 L176.9,399.5Z" fill="#0f4a88"/><path d="M171.2,391.5 L171.2,391.2 L164.6,382.7 L155.2,394.0 L160.2,402.5 L171.2,391.5Z" fill="#3a68a4"/><path d="M171.2,391.2 L171.2,391.5 L176.9,399.5 L186.6,398.4 L186.9,397.5 L187.8,392.8 L185.0,389.0 L185.0,384.4 L171.2,391.2Z" fill="#3a68a4"/><path d="M176.9,399.5 L172.0,409.3 L173.4,410.0 L176.5,409.4 L185.2,410.0 L185.9,410.2 L185.9,410.0 L185.0,403.1 L186.6,398.4 L176.9,399.5Z" fill="#5787bd"/><path d="M152.0,293.5 L152.4,291.8 L136.1,275.5 L130.2,280.6 L134.0,287.5 L140.2,290.0 L134.0,297.5 L136.3,300.5 L152.0,293.5Z" fill="#3a68a4"/><path d="M152.4,291.8 L154.8,289.4 L154.8,278.5 L136.8,274.9 L136.1,275.5 L152.4,291.8Z" fill="#5787bd"/><path d="M153.7,253.7 L154.1,253.3 L149.1,230.9 L144.2,225.6 L143.0,227.5 L136.1,228.8 L139.2,237.5 L141.1,245.0 L145.9,250.0 L146.3,255.2 L153.7,253.7Z" fill="#5787bd"/><path d="M149.1,230.9 L168.1,238.5 L174.3,235.9 L179.0,228.9 L179.0,210.9 L177.7,208.9 L174.2,211.2 L168.0,215.0 L172.4,220.0 L168.0,225.0 L154.9,227.5 L144.2,225.6 L144.2,225.6 L149.1,230.9Z" fill="#72a5d2"/><path d="M153.7,253.7 L155.2,266.1 L166.5,263.3 L166.8,262.8 L166.3,259.1 L158.5,252.9 L154.1,253.3 L153.7,253.7Z" fill="#0f4a88"/><path d="M155.0,266.9 L155.2,266.1 L153.7,253.7 L146.3,255.2 L146.5,257.5 L139.0,267.5 L139.5,271.4 L155.0,266.9Z" fill="#5787bd"/><path d="M156.3,300.0 L152.0,293.5 L136.3,300.5 L141.5,307.5 L142.8,317.5 L148.4,325.0 L148.4,325.1 L156.3,327.4 L156.3,300.0Z" fill="#3a68a4"/><path d="M156.3,300.0 L168.0,298.0 L168.0,288.4 L166.6,286.5 L154.8,289.4 L152.4,291.8 L152.0,293.5 L156.3,300.0Z" fill="#5787bd"/><path d="M154.8,289.4 L166.6,286.5 L168.1,278.8 L167.3,276.4 L166.5,275.8 L159.1,274.2 L154.8,278.5 L154.8,289.4Z" fill="#5787bd"/><path d="M154.8,278.5 L159.1,274.2 L155.0,266.9 L139.5,271.4 L139.6,272.5 L136.8,274.9 L154.8,278.5Z" fill="#0f4a88"/><path d="M166.3,259.1 L173.0,254.1 L173.2,253.2 L166.3,246.3 L158.5,252.9 L166.3,259.1Z" fill="#0f4a88"/><path d="M154.1,253.3 L158.5,252.9 L166.3,246.3 L168.1,238.5 L149.1,230.9 L154.1,253.3Z" fill="#3a68a4"/><path d="M167.3,276.4 L177.4,268.3 L177.8,265.0 L166.8,262.8 L166.5,263.3 L166.5,275.8 L167.3,276.4Z" fill="#3a68a4"/><path d="M155.0,266.9 L159.1,274.2 L166.5,275.8 L166.5,263.3 L155.2,266.1 L155.0,266.9Z" fill="#3a68a4"/><path d="M168.0,298.0 L156.3,300.0 L156.3,327.4 L156.5,327.5 L164.0,325.0 L170.2,320.0 L174.0,313.8 L181.1,311.1 L168.0,298.0Z" fill="#5787bd"/><path d="M168.1,278.8 L179.8,280.7 L179.8,271.3 L177.4,268.3 L167.3,276.4 L168.1,278.8Z" fill="#3a68a4"/><path d="M179.0,210.9 L195.0,216.7 L217.0,211.5 L216.9,211.2 L218.4,206.6 L216.9,197.2 L212.2,195.6 L205.9,191.0 L193.4,198.8 L182.4,202.5 L181.8,206.2 L177.7,208.9 L179.0,210.9Z" fill="#5787bd"/><path d="M166.3,259.1 L166.8,262.8 L177.8,265.0 L178.2,264.4 L173.0,254.1 L166.3,259.1Z" fill="#3a68a4"/><path d="M168.0,288.4 L181.5,290.6 L180.1,281.0 L179.8,280.7 L168.1,278.8 L166.6,286.5 L168.0,288.4Z" fill="#3a68a4"/><path d="M166.3,246.3 L173.2,253.2 L176.2,251.7 L179.2,244.4 L174.3,235.9 L168.1,238.5 L166.3,246.3Z" fill="#3a68a4"/><path d="M168.0,298.0 L181.1,311.1 L184.0,310.0 L189.9,306.0 L188.8,299.0 L181.5,290.6 L168.0,288.4 L168.0,298.0Z" fill="#3a68a4"/><path d="M176.2,251.7 L182.1,254.7 L186.1,246.7 L179.2,244.4 L176.2,251.7Z" fill="#3a68a4"/><path d="M173.0,254.1 L178.2,264.4 L182.9,262.1 L183.3,257.0 L182.1,254.7 L176.2,251.7 L173.2,253.2 L173.0,254.1Z" fill="#0f4a88"/><path d="M189.9,306.0 L190.0,306.0 L199.4,302.8 L207.2,296.6 L210.5,293.3 L208.0,280.9 L196.7,279.0 L188.8,299.0 L189.9,306.0Z" fill="#5787bd"/><path d="M188.8,299.0 L196.7,279.0 L194.3,275.3 L180.1,281.0 L181.5,290.6 L188.8,299.0Z" fill="#5787bd"/><path d="M180.1,281.0 L194.3,275.3 L194.2,274.9 L179.8,271.3 L179.8,280.7 L180.1,281.0Z" fill="#3a68a4"/><path d="M177.8,265.0 L177.4,268.3 L179.8,271.3 L194.2,274.9 L194.3,273.5 L182.9,262.1 L178.2,264.4 L177.8,265.0Z" fill="#0f4a88"/><path d="M183.3,257.0 L192.3,252.5 L191.9,246.0 L186.1,246.7 L182.1,254.7 L183.3,257.0Z" fill="#5787bd"/><path d="M179.2,244.4 L186.1,246.7 L191.9,246.0 L194.6,242.4 L195.1,239.0 L179.0,228.9 L174.3,235.9 L179.2,244.4Z" fill="#3a68a4"/><path d="M194.3,275.3 L196.7,279.0 L208.0,280.9 L215.1,275.2 L212.3,258.2 L195.0,272.1 L194.3,273.5 L194.2,274.9 L194.3,275.3Z" fill="#3a68a4"/><path d="M192.3,252.5 L183.3,257.0 L182.9,262.1 L193.8,259.4 L194.9,257.4 L192.3,252.5Z" fill="#3a68a4"/><path d="M194.9,257.4 L212.4,257.4 L210.9,255.5 L194.6,242.4 L191.9,246.0 L192.3,252.5 L194.9,257.4Z" fill="#0f4a88"/><path d="M195.1,239.0 L194.6,242.4 L210.9,255.5 L205.5,234.0 L201.4,234.0 L195.1,239.0Z" fill="#5787bd"/><path d="M201.4,234.0 L195.0,216.7 L179.0,210.9 L179.0,228.9 L195.1,239.0 L201.4,234.0Z" fill="#72a5d2"/><path d="M194.3,273.5 L195.0,272.1 L193.8,259.4 L182.9,262.1 L194.3,273.5Z" fill="#3a68a4"/><path d="M195.0,272.1 L212.3,258.2 L212.5,257.5 L212.4,257.4 L194.9,257.4 L193.8,259.4 L195.0,272.1Z" fill="#0f4a88"/><path d="M201.4,234.0 L205.5,234.0 L211.8,231.9 L217.2,211.9 L217.0,211.5 L195.0,216.7 L201.4,234.0Z" fill="#72a5d2"/><path d="M261.1,199.6 L265.3,194.0 L263.8,189.4 L257.5,187.8 L249.7,189.4 L241.9,187.8 L241.1,188.3 L261.1,199.6Z" fill="#5787bd"/><path d="M237.6,272.8 L224.6,278.3 L224.1,303.3 L225.9,299.7 L233.8,293.4 L238.4,287.2 L240.0,281.0 L244.7,279.4 L249.4,274.7 L247.5,273.3 L237.6,272.8Z" fill="#5787bd"/><path d="M215.1,275.2 L224.6,278.3 L237.6,272.8 L222.8,257.3 L214.1,256.6 L212.5,257.5 L212.3,258.2 L215.1,275.2Z" fill="#72a5d2"/><path d="M211.8,231.9 L220.2,238.4 L232.4,236.4 L237.6,219.9 L236.1,214.6 L234.4,212.9 L229.4,215.9 L220.0,217.5 L217.2,211.9 L211.8,231.9Z" fill="#5787bd"/><path d="M212.4,257.4 L212.5,257.5 L214.1,256.6 L220.2,238.4 L211.8,231.9 L205.5,234.0 L210.9,255.5 L212.4,257.4Z" fill="#3a68a4"/><path d="M208.0,280.9 L210.5,293.3 L211.9,291.9 L215.0,296.6 L221.2,306.0 L222.8,306.0 L224.1,303.3 L224.6,278.3 L215.1,275.2 L208.0,280.9Z" fill="#72a5d2"/><path d="M236.1,214.6 L260.6,207.6 L260.6,200.3 L261.1,199.6 L241.1,188.3 L234.0,192.5 L238.8,198.8 L240.3,206.6 L237.2,211.2 L234.4,212.9 L236.1,214.6Z" fill="#5787bd"/><path d="M237.6,272.8 L247.5,273.3 L243.1,270.0 L251.2,262.8 L255.7,259.8 L252.1,254.4 L238.0,246.5 L222.8,257.3 L237.6,272.8Z" fill="#72a5d2"/><path d="M214.1,256.6 L222.8,257.3 L238.0,246.5 L232.4,236.4 L220.2,238.4 L214.1,256.6Z" fill="#5787bd"/><path d="M238.0,246.5 L252.1,254.4 L255.5,230.1 L237.6,219.9 L232.4,236.4 L238.0,246.5Z" fill="#5787bd"/><path d="M267.0,225.5 L255.5,230.1 L252.1,254.4 L255.7,259.8 L260.6,256.6 L266.2,256.9 L267.0,256.1 L267.0,225.5Z" fill="#72a5d2"/><path d="M236.1,214.6 L237.6,219.9 L255.5,230.1 L267.0,225.5 L272.1,221.7 L269.4,216.2 L263.8,214.4 L260.6,208.1 L260.6,207.6 L236.1,214.6Z" fill="#5787bd"/><path d="M267.0,225.5 L267.0,256.1 L272.5,250.6 L277.2,243.5 L278.8,233.4 L274.0,225.6 L272.1,221.7 L267.0,225.5Z" fill="#72a5d2"/><path d="M196.0,185.2 L183.9,172.0 L183.0,177.5 L171.8,176.9 L169.2,180.0 L169.9,186.2 L178.0,190.0 L181.8,191.2 L183.0,198.8 L182.4,202.5 L193.4,198.8 L194.4,198.1 L196.0,185.2Z" fill="#8fc4e8"/><path d="M205.6,153.5 L210.8,149.2 L212.2,130.2 L203.9,126.7 L188.6,131.8 L191.0,132.5 L191.6,146.0 L190.1,150.9 L205.6,153.5Z" fill="#5787bd"/><path d="M203.9,126.7 L212.2,130.2 L214.8,128.8 L217.4,108.1 L216.0,108.1 L204.8,108.8 L200.5,109.3 L203.9,126.7Z" fill="#5787bd"/><path d="M203.9,126.7 L200.5,109.3 L194.8,110.0 L188.5,113.8 L185.4,118.8 L184.8,130.6 L188.6,131.8 L203.9,126.7Z" fill="#5787bd"/><path d="M194.4,198.1 L205.9,191.0 L212.2,195.6 L216.9,197.2 L218.4,206.6 L216.9,211.2 L220.0,217.5 L229.4,215.9 L236.3,211.8 L217.9,175.1 L209.6,173.6 L196.0,185.2 L194.4,198.1Z" fill="#8fc4e8"/><path d="M196.0,185.2 L209.6,173.6 L205.6,153.5 L190.1,150.9 L187.2,160.0 L185.4,170.0 L184.2,170.0 L183.9,172.0 L196.0,185.2Z" fill="#8fc4e8"/><path d="M205.6,153.5 L209.6,173.6 L217.9,175.1 L230.8,167.5 L226.8,151.5 L210.8,149.2 L205.6,153.5Z" fill="#72a5d2"/><path d="M249.1,123.8 L261.7,124.9 L266.3,121.3 L273.0,98.4 L267.2,97.2 L264.0,98.5 L256.0,100.4 L251.0,97.9 L244.8,104.0 L243.5,116.0 L247.9,119.0 L246.3,121.3 L249.1,123.8Z" fill="#5787bd"/><path d="M305.3,235.9 L280.9,227.8 L276.9,230.4 L278.8,233.4 L277.2,243.5 L286.6,247.5 L286.6,255.3 L285.0,261.6 L297.5,263.1 L302.2,260.0 L305.3,257.9 L305.3,235.9Z" fill="#5787bd"/><path d="M217.9,175.1 L236.3,211.8 L237.2,211.2 L240.3,206.6 L238.8,198.8 L234.0,192.5 L241.9,187.8 L243.3,188.1 L237.1,169.6 L230.8,167.5 L217.9,175.1Z" fill="#72a5d2"/><path d="M234.6,144.4 L226.8,128.8 L214.8,128.8 L212.2,130.2 L210.8,149.2 L226.8,151.5 L234.6,144.4Z" fill="#72a5d2"/><path d="M226.8,151.5 L230.8,167.5 L237.1,169.6 L253.2,159.4 L253.0,154.0 L251.0,153.4 L249.7,149.6 L242.9,144.4 L234.6,144.4 L226.8,151.5Z" fill="#8fc4e8"/><path d="M214.8,128.8 L226.8,128.8 L230.2,125.0 L227.2,121.2 L224.8,113.8 L222.9,108.1 L217.4,108.1 L214.8,128.8ZM236.8,117.6 L234.8,116.2 L233.5,120.0 L233.8,121.0 L236.8,117.6Z" fill="#72a5d2"/><path d="M234.6,144.4 L242.9,144.4 L249.1,123.8 L246.3,121.3 L244.8,123.5 L242.9,124.8 L242.2,121.2 L236.8,117.6 L233.8,121.0 L234.8,123.8 L232.2,127.5 L230.2,125.0 L226.8,128.8 L234.6,144.4Z" fill="#5787bd"/><path d="M264.1,170.9 L253.2,159.4 L237.1,169.6 L243.3,188.1 L249.7,189.4 L257.5,187.8 L257.5,187.8 L264.1,170.9Z" fill="#72a5d2"/><path d="M280.9,227.8 L290.0,217.5 L291.0,207.5 L282.4,196.0 L260.9,199.9 L260.6,200.3 L260.6,208.1 L263.8,214.4 L269.4,216.2 L274.0,225.6 L276.9,230.4 L280.9,227.8Z" fill="#3a68a4"/><path d="M249.7,149.6 L248.0,145.0 L249.0,145.0 L255.0,145.2 L259.5,147.3 L264.7,143.5 L261.7,124.9 L249.1,123.8 L242.9,144.4 L249.7,149.6Z" fill="#8fc4e8"/><path d="M259.5,147.3 L260.0,147.6 L262.0,152.5 L257.0,155.2 L253.0,154.0 L253.2,159.4 L264.1,170.9 L279.2,168.2 L279.2,146.7 L264.7,143.5 L259.5,147.3Z" fill="#72a5d2"/><path d="M264.7,143.5 L279.2,146.7 L284.2,142.8 L284.2,130.0 L266.3,121.3 L261.7,124.9 L264.7,143.5Z" fill="#72a5d2"/><path d="M257.5,187.8 L263.8,189.4 L265.3,194.0 L260.9,199.9 L282.4,196.0 L289.1,182.5 L284.0,171.2 L279.2,168.2 L264.1,170.9 L257.5,187.8Z" fill="#5787bd"/><path d="M279.2,168.2 L284.0,171.2 L305.5,156.8 L306.3,147.7 L284.2,142.8 L279.2,146.7 L279.2,168.2Z" fill="#5787bd"/><path d="M291.0,207.5 L313.5,201.0 L316.1,194.8 L311.1,184.7 L289.1,182.5 L282.4,196.0 L291.0,207.5Z" fill="#3a68a4"/><path d="M266.3,121.3 L284.2,130.0 L293.0,120.6 L288.5,117.2 L283.5,111.0 L278.5,103.5 L273.5,98.5 L273.0,98.4 L266.3,121.3Z" fill="#5787bd"/><path d="M289.1,182.5 L311.1,184.7 L315.5,172.7 L305.5,156.8 L284.0,171.2 L289.1,182.5Z" fill="#5787bd"/><path d="M284.2,142.8 L306.3,147.7 L306.8,147.2 L308.6,129.1 L306.0,129.8 L301.0,128.5 L296.0,126.0 L293.5,121.0 L293.0,120.6 L284.2,130.0 L284.2,142.8Z" fill="#72a5d2"/><path d="M317.5,221.2 L311.1,224.5 L305.3,235.9 L305.3,257.9 L316.2,250.6 L330.3,247.5 L328.8,241.2 L325.6,230.3 L326.5,225.0 L317.5,221.2Z" fill="#3a68a4"/><path d="M306.8,147.2 L318.0,147.2 L335.5,142.9 L340.4,136.8 L338.8,134.8 L329.4,131.7 L320.0,131.0 L316.0,129.8 L311.0,128.5 L308.6,129.1 L306.8,147.2Z" fill="#5787bd"/><path d="M291.0,207.5 L290.0,217.5 L311.1,224.5 L317.5,221.2 L313.5,201.0 L291.0,207.5Z" fill="#5787bd"/><path d="M280.9,227.8 L305.3,235.9 L311.1,224.5 L290.0,217.5 L280.9,227.8Z" fill="#3a68a4"/><path d="M305.5,156.8 L315.5,172.7 L328.5,168.3 L318.0,147.2 L306.8,147.2 L306.3,147.7 L305.5,156.8Z" fill="#5787bd"/><path d="M311.1,184.7 L316.1,194.8 L342.4,194.8 L341.9,193.4 L340.3,185.6 L335.6,176.2 L332.8,167.9 L328.5,168.3 L315.5,172.7 L311.1,184.7Z" fill="#72a5d2"/><path d="M316.1,194.8 L313.5,201.0 L317.5,221.2 L326.5,225.0 L327.2,221.0 L341.2,217.8 L343.4,207.5 L344.2,199.7 L342.4,194.8 L316.1,194.8Z" fill="#5787bd"/><path d="M318.0,147.2 L328.5,168.3 L332.8,167.9 L332.5,166.9 L335.5,165.4 L335.5,142.9 L318.0,147.2Z" fill="#5787bd"/><path d="M335.5,142.9 L335.5,165.4 L341.9,162.2 L354.4,163.8 L362.2,159.0 L362.2,154.4 L362.2,153.0 L357.5,151.2 L351.2,147.3 L343.4,140.3 L340.4,136.8 L335.5,142.9Z" fill="#3a68a4"/><path d="M292.2,116.0 L296.0,123.5 L299.8,126.0 L306.0,127.2 L311.0,126.0 L311.0,114.8 L306.0,108.5 L298.0,112.0 L292.2,116.0Z" fill="#3a68a4"/><path d="M359.6,232.2 L359.5,231.6 L336.9,218.8 L327.2,221.0 L325.6,230.3 L328.8,241.2 L330.3,247.5 L337.8,248.4 L341.8,255.0 L359.6,232.2Z" fill="#5787bd"/><path d="M341.8,255.0 L342.5,256.2 L345.6,261.0 L356.6,264.0 L360.9,268.4 L366.9,263.8 L373.0,245.4 L359.6,232.2 L341.8,255.0Z" fill="#0f4a88"/><path d="M363.7,184.3 L391.2,177.4 L391.9,168.4 L388.8,164.5 L379.4,162.2 L371.6,157.5 L363.8,153.6 L362.2,153.0 L362.2,154.4 L362.2,159.0 L361.2,159.6 L363.7,184.3Z" fill="#3a68a4"/><path d="M362.2,189.8 L363.7,184.3 L361.2,159.6 L354.4,163.8 L341.9,162.2 L332.5,166.9 L335.6,176.2 L340.3,185.6 L341.2,189.8 L362.2,189.8Z" fill="#5787bd"/><path d="M362.2,189.8 L367.0,198.6 L392.9,191.2 L388.8,185.6 L391.1,179.4 L391.2,177.4 L363.7,184.3 L362.2,189.8Z" fill="#3a68a4"/><path d="M366.8,201.7 L367.0,198.6 L362.2,189.8 L341.2,189.8 L341.9,193.4 L344.2,199.7 L343.4,207.5 L342.6,211.4 L366.8,201.7Z" fill="#5787bd"/><path d="M359.5,231.6 L359.6,232.2 L373.0,245.4 L393.8,242.9 L396.1,220.1 L371.9,215.7 L359.5,231.6Z" fill="#5787bd"/><path d="M371.9,215.7 L366.8,201.7 L342.6,211.4 L341.2,217.8 L336.9,218.8 L359.5,231.6 L371.9,215.7Z" fill="#5787bd"/><path d="M386.0,268.0 L366.9,263.8 L360.9,268.4 L361.2,268.8 L359.7,273.4 L365.0,279.0 L376.2,284.4 L383.6,287.4 L386.0,268.0Z" fill="#3a68a4"/><path d="M366.8,201.7 L371.9,215.7 L396.1,220.1 L398.3,218.1 L392.5,210.0 L393.8,200.0 L393.4,191.9 L392.9,191.2 L367.0,198.6 L366.8,201.7Z" fill="#5787bd"/><path d="M386.0,268.0 L383.6,287.4 L383.8,287.5 L385.6,290.6 L393.8,290.0 L394.5,289.3 L396.2,287.5 L395.6,281.2 L393.3,273.4 L394.0,265.6 L393.7,263.4 L386.0,268.0Z" fill="#3a68a4"/><path d="M393.7,263.4 L392.5,256.2 L392.5,251.2 L398.5,248.9 L393.8,242.9 L373.0,245.4 L366.9,263.8 L386.0,268.0 L393.7,263.4Z" fill="#5787bd"/><path d="M396.1,220.1 L393.8,242.9 L398.5,248.9 L408.8,245.0 L417.5,242.5 L426.2,243.8 L431.2,240.0 L430.0,230.0 L421.2,226.2 L412.5,222.5 L406.2,222.5 L398.8,218.8 L398.3,218.1 L396.1,220.1Z" fill="#3a68a4"/><path d="M325.4,309.9 L319.9,303.1 L300.1,300.1 L297.2,310.3 L303.4,318.1 L311.2,321.2 L316.8,325.4 L325.4,309.9Z" fill="#72a5d2"/><path d="M315.2,278.3 L323.9,266.1 L315.9,250.8 L302.2,260.0 L297.5,263.1 L302.2,269.4 L310.0,275.6 L309.3,279.6 L315.2,278.3Z" fill="#72a5d2"/><path d="M323.9,266.1 L334.8,268.8 L343.9,258.4 L342.5,256.2 L337.8,248.4 L330.3,247.5 L316.2,250.6 L315.9,250.8 L323.9,266.1Z" fill="#3a68a4"/><path d="M339.4,320.0 L326.0,310.0 L325.4,309.9 L316.8,325.4 L317.5,326.0 L323.8,330.6 L326.9,338.4 L331.6,333.8 L334.7,329.8 L336.2,329.7 L339.4,320.0Z" fill="#72a5d2"/><path d="M325.4,309.9 L326.0,310.0 L345.6,296.9 L337.0,285.9 L326.1,289.2 L319.9,303.1 L325.4,309.9Z" fill="#5787bd"/><path d="M319.9,303.1 L326.1,289.2 L315.2,278.3 L309.3,279.6 L308.4,285.0 L303.4,290.0 L300.3,299.4 L300.1,300.1 L319.9,303.1Z" fill="#5787bd"/><path d="M337.0,285.9 L339.0,278.1 L334.8,268.8 L323.9,266.1 L315.2,278.3 L326.1,289.2 L337.0,285.9Z" fill="#3a68a4"/><path d="M345.6,318.3 L339.4,320.0 L336.2,329.7 L342.5,329.0 L348.8,332.2 L351.9,336.9 L353.4,327.5 L355.8,324.0 L345.6,318.3Z" fill="#5787bd"/><path d="M337.0,285.9 L345.6,296.9 L346.0,297.1 L364.6,278.6 L361.4,275.2 L339.0,278.1 L337.0,285.9Z" fill="#5787bd"/><path d="M339.0,278.1 L361.4,275.2 L359.7,273.4 L361.2,268.8 L356.6,264.0 L345.6,261.0 L343.9,258.4 L334.8,268.8 L339.0,278.1Z" fill="#3a68a4"/><path d="M339.4,320.0 L345.6,318.3 L349.7,301.7 L346.0,297.1 L345.6,296.9 L326.0,310.0 L339.4,320.0Z" fill="#5787bd"/><path d="M363.7,305.2 L362.8,304.3 L349.7,301.7 L345.6,318.3 L355.8,324.0 L356.6,322.8 L361.2,321.2 L364.4,326.0 L365.9,326.5 L363.7,305.2Z" fill="#5787bd"/><path d="M394.3,312.0 L381.2,300.8 L363.7,305.2 L365.9,326.5 L372.5,328.8 L383.8,326.2 L381.2,320.0 L382.5,316.2 L387.5,315.0 L394.6,312.4 L394.3,312.0Z" fill="#5787bd"/><path d="M396.0,297.7 L407.3,284.9 L401.2,282.5 L398.0,285.7 L396.2,287.5 L394.5,289.3 L394.2,289.6 L396.0,297.7Z" fill="#3a68a4"/><path d="M346.0,297.1 L349.7,301.7 L362.8,304.3 L366.8,279.9 L365.0,279.0 L364.6,278.6 L346.0,297.1Z" fill="#72a5d2"/><path d="M362.8,304.3 L363.7,305.2 L381.2,300.8 L378.2,285.2 L376.2,284.4 L366.8,279.9 L362.8,304.3Z" fill="#72a5d2"/><path d="M381.2,300.8 L394.3,312.0 L394.9,306.9 L393.8,305.0 L395.0,300.0 L395.8,299.7 L396.0,297.7 L394.2,289.6 L393.8,290.0 L385.6,290.6 L383.8,287.5 L378.2,285.2 L381.2,300.8Z" fill="#5787bd"/><path d="M396.0,297.7 L395.8,299.7 L401.2,297.5 L410.0,293.8 L411.2,291.2 L407.5,285.0 L407.3,284.9 L396.0,297.7ZM394.3,312.0 L394.6,312.4 L397.5,311.2 L394.9,306.9 L394.3,312.0Z" fill="#3a68a4"/><path d="M231.1,347.6 L225.0,332.2 L220.2,330.5 L218.8,336.2 L212.5,339.4 L209.4,347.2 L212.5,351.9 L223.4,353.4 L226.3,354.9 L231.1,347.6Z" fill="#5787bd"/><path d="M245.2,354.6 L231.1,347.6 L226.3,354.9 L229.7,356.6 L232.8,361.2 L233.6,369.1 L231.8,372.7 L232.8,373.8 L238.9,379.9 L245.2,354.6Z" fill="#5787bd"/><path d="M225.0,332.2 L230.9,329.8 L240.4,322.3 L242.3,308.9 L231.1,295.5 L225.9,299.7 L222.8,306.0 L221.2,306.0 L219.7,313.8 L216.6,320.0 L218.1,326.2 L220.3,330.0 L220.2,330.5 L225.0,332.2Z" fill="#5787bd"/><path d="M260.2,289.4 L269.3,272.2 L258.6,257.9 L251.2,262.8 L243.1,270.0 L249.4,274.7 L244.7,279.4 L240.0,281.0 L239.1,284.4 L260.2,289.4Z" fill="#72a5d2"/><path d="M231.1,347.6 L245.2,354.6 L247.8,353.6 L254.4,341.7 L230.9,329.8 L225.0,332.2 L231.1,347.6Z" fill="#72a5d2"/><path d="M245.2,354.6 L238.9,379.9 L239.0,380.0 L242.2,381.6 L246.9,384.7 L247.5,385.7 L261.4,368.4 L257.7,358.9 L247.8,353.6 L245.2,354.6Z" fill="#5787bd"/><path d="M256.4,340.2 L259.8,327.2 L240.4,322.3 L230.9,329.8 L254.4,341.7 L256.4,340.2Z" fill="#72a5d2"/><path d="M254.4,341.7 L247.8,353.6 L257.7,358.9 L265.1,355.2 L262.5,348.8 L266.7,346.0 L256.4,340.2 L254.4,341.7Z" fill="#5787bd"/><path d="M261.6,325.8 L265.6,325.9 L277.8,321.8 L280.2,303.6 L278.5,301.7 L264.3,298.0 L258.3,306.2 L261.6,325.8Z" fill="#72a5d2"/><path d="M258.3,306.2 L242.3,308.9 L240.4,322.3 L259.8,327.2 L261.6,325.8 L258.3,306.2Z" fill="#5787bd"/><path d="M242.3,308.9 L258.3,306.2 L264.3,298.0 L260.2,289.4 L239.1,284.4 L238.4,287.2 L233.8,293.4 L231.1,295.5 L242.3,308.9Z" fill="#72a5d2"/><path d="M256.4,340.2 L266.7,346.0 L267.2,345.6 L276.6,347.2 L277.3,346.3 L265.6,325.9 L261.6,325.8 L259.8,327.2 L256.4,340.2Z" fill="#5787bd"/><path d="M261.4,368.4 L247.5,385.7 L250.0,389.4 L253.1,387.8 L261.0,378.4 L264.0,376.9 L270.3,375.3 L275.0,372.2 L273.8,368.8 L261.4,368.4Z" fill="#72a5d2"/><path d="M269.3,272.2 L282.4,272.8 L290.8,262.3 L285.0,261.6 L286.6,255.3 L286.6,247.5 L277.2,243.5 L272.5,250.6 L266.2,256.9 L260.6,256.6 L258.6,257.9 L269.3,272.2Z" fill="#72a5d2"/><path d="M257.7,358.9 L261.4,368.4 L273.8,368.8 L273.4,367.5 L268.8,365.9 L265.6,356.6 L265.1,355.2 L257.7,358.9Z" fill="#72a5d2"/><path d="M280.2,303.6 L277.8,321.8 L290.0,331.2 L292.5,327.5 L303.4,318.1 L297.2,310.3 L298.8,304.7 L280.2,303.6Z" fill="#72a5d2"/><path d="M277.8,321.8 L265.6,325.9 L277.3,346.3 L281.2,341.0 L286.2,336.9 L290.0,331.2 L277.8,321.8Z" fill="#5787bd"/><path d="M264.3,298.0 L278.5,301.7 L286.2,280.4 L282.4,272.8 L269.3,272.2 L260.2,289.4 L264.3,298.0Z" fill="#72a5d2"/><path d="M280.2,303.6 L298.8,304.7 L300.3,299.4 L303.4,290.0 L305.1,288.3 L286.2,280.4 L278.5,301.7 L280.2,303.6Z" fill="#72a5d2"/><path d="M282.4,272.8 L286.2,280.4 L305.1,288.3 L308.4,285.0 L310.0,275.6 L302.2,269.4 L297.5,263.1 L290.8,262.3 L282.4,272.8Z" fill="#5787bd"/><path d="M249.0,145.0 L248.0,145.0 L251.0,153.4 L257.0,155.2 L262.0,152.5 L260.0,147.6 L255.0,145.2 L249.0,145.0Z" fill="#0f4a88"/><path d="M428.5,181.0 L427.5,187.0 L430.0,192.0 L435.0,192.5 L442.5,193.0 L450.5,195.0 L452.5,189.5 L449.0,182.5 L442.5,178.0 L435.0,178.5 L428.5,181.0Z" fill="#0f4a88"/></g><polygon points="240.5,21.0 243.5,20.2 241.9,26.5 242.6,30.6 248.0,31.8 246.0,33.6 239.5,32.4 238.6,29.5 240.8,25.0" fill="#72a5d2"/><polygon points="241.8,40.0 246.5,39.8 248.0,43.5 246.0,44.8 242.5,43.8" fill="#72a5d2"/><polygon points="249.5,54.0 252.8,53.5 252.0,57.0 249.0,57.2" fill="#72a5d2"/><polygon points="342.9,55.7 345.6,55.7 350.5,59.5 352.7,63.4 342.3,60.1" fill="#72a5d2"/><polygon points="427.5,45.0 430.0,43.0 433.8,43.8 432.5,47.5 436.2,51.2 442.5,49.4 443.1,53.8 440.0,58.8 446.9,64.4 445.6,66.9 440.0,64.4 435.0,65.0 433.8,72.5 425.0,70.0 423.8,63.8 426.2,57.5 425.0,52.5 429.0,50.0" fill="#3a68a4"/><polygon points="203.5,104.5 208.5,104.8 208.0,105.8 203.5,105.6" fill="#5787bd"/><polygon points="172.0,114.0 176.0,112.5 177.0,113.8 173.0,115.0" fill="#5787bd"/><polygon points="449.5,82.0 455.0,87.5 458.8,89.0 457.5,92.5 453.8,96.0 451.0,93.0 448.8,86.0" fill="#fff"/><polygon points="434.0,53.0 437.5,56.0 435.0,59.0" fill="#fff"/><polygon points="399.0,64.0 406.0,61.5 411.0,64.5 416.0,61.2 419.5,61.0 417.0,62.8 411.0,66.2 406.0,63.8 399.0,66.5" fill="#fff"/><g stroke="#fff" stroke-width="0.8" stroke-linejoin="round"><polygon points="278.2,35.7 283.8,34.8 284.4,40.0 278.8,40.8" fill="#3a68a4"/><polygon points="286.6,107.9 292.2,98.5 299.8,107.9 297.9,113.5 292.2,115.4" fill="#5787bd"/><polygon points="326.0,96.6 330.7,95.7 330.7,104.1 326.0,104.1" fill="#3a68a4"/><polygon points="305.4,62.9 309.5,61.9 308.2,72.2 304.4,72.2" fill="#3a68a4"/><polygon points="186.3,128.8 193.8,127.5 194.8,131.2 187.2,132.0" fill="#0f4a88"/><polygon points="224.8,113.8 228.9,113.8 229.4,120.4 225.7,120.4" fill="#0f4a88"/><polygon points="229.4,141.9 235.1,141.9 234.5,148.5 230.0,148.1" fill="#5787bd"/><polygon points="220.1,201.0 227.0,200.6 227.6,205.7 221.0,206.2" fill="#3a68a4"/><polygon points="363.5,211.3 371.0,210.4 371.4,219.8 365.4,219.8" fill="#3a68a4"/><polygon points="353.5,111.2 359.8,111.2 360.5,120.0 354.0,120.0" fill="#0f4a88"/><polygon points="399.0,186.5 405.0,185.5 411.0,186.0 410.5,190.5 400.0,191.0" fill="#72a5d2"/><polygon points="399.5,191.8 406.0,191.2 410.2,192.0 407.0,197.5 400.5,200.0" fill="#0f4a88"/><polygon points="480.6,192.4 486.5,192.4 487.1,200.5 481.0,200.5" fill="#3a68a4"/><polygon points="379.3,253.0 385.8,251.9 386.9,259.5 380.4,261.1" fill="#0f4a88"/><polygon points="378.7,253.6 387.4,252.8 387.9,259.8 380.2,260.8" fill="#0f4a88"/><polygon points="199.2,219.8 210.5,216.0 212.4,229.1 206.8,232.9" fill="#72a5d2"/><polygon points="154.2,361.9 162.1,361.9 161.8,369.8 154.6,369.8" fill="#3a68a4"/><polygon points="274.4,264.0 282.6,264.0 282.6,271.9 274.8,272.2" fill="#3a68a4"/><polygon points="241.9,425.6 247.6,425.6 247.6,430.3 242.5,430.7" fill="#3a68a4"/><polygon points="219.4,430.3 226.9,430.3 226.9,441.6 220.4,441.6" fill="#3a68a4"/><polygon points="198.7,480.8 207.9,481.7 207.4,488.2 199.6,487.8" fill="#3a68a4"/><polygon points="219.2,430.5 228.0,430.5 228.0,440.8 219.9,441.2" fill="#3a68a4"/><polygon points="312.9,352.0 310.5,354.2 307.4,353.2 306.6,350.0 309.0,347.8 312.1,348.8" fill="#5787bd"/><polygon points="301.6,370.7 299.2,372.9 296.1,372.0 295.4,368.8 297.8,366.6 300.9,367.5" fill="#72a5d2"/><polygon points="341.6,364.5 339.2,366.7 336.1,365.7 335.4,362.5 337.8,360.3 340.9,361.3" fill="#72a5d2"/><polygon points="371.6,359.5 369.2,361.7 366.1,360.7 365.4,357.5 367.8,355.3 370.9,356.3" fill="#72a5d2"/><polygon points="396.6,377.0 394.2,379.2 391.1,378.2 390.4,375.0 392.8,372.8 395.9,373.8" fill="#72a5d2"/><polygon points="327.9,403.2 325.5,405.4 322.4,404.5 321.6,401.3 324.0,399.1 327.1,400.0" fill="#72a5d2"/><polygon points="383.9,391.9 381.7,393.9 378.8,393.0 378.1,390.1 380.3,388.1 383.2,389.0" fill="#72a5d2"/><polygon points="395.1,420.6 392.9,422.7 390.1,421.8 389.4,418.9 391.6,416.8 394.4,417.7" fill="#72a5d2"/><polygon points="415.1,428.1 412.9,430.2 410.1,429.3 409.4,426.4 411.6,424.3 414.4,425.2" fill="#5787bd"/><polygon points="364.1,438.2 361.7,440.4 358.6,439.5 357.9,436.3 360.3,434.1 363.4,435.0" fill="#72a5d2"/><polygon points="397.6,451.9 395.4,453.9 392.6,453.0 391.9,450.1 394.1,448.1 396.9,449.0" fill="#72a5d2"/><polygon points="267.9,435.7 265.5,437.9 262.4,437.0 261.6,433.8 264.0,431.6 267.1,432.5" fill="#5787bd"/><polygon points="268.9,411.9 266.7,413.9 263.8,413.0 263.1,410.1 265.3,408.1 268.2,409.0" fill="#72a5d2"/><polygon points="341.6,464.5 339.2,466.7 336.1,465.7 335.4,462.5 337.8,460.3 340.9,461.3" fill="#5787bd"/><polygon points="371.2,477.2 368.2,480.1 364.2,478.8 363.3,474.8 366.3,471.9 370.3,473.2" fill="#72a5d2"/><polygon points="396.2,496.8 394.1,498.8 391.4,497.9 390.8,495.2 392.9,493.2 395.6,494.1" fill="#72a5d2"/><polygon points="452.6,447.1 450.4,449.2 447.6,448.3 446.9,445.4 449.1,443.3 451.9,444.2" fill="#5787bd"/><polygon points="383.9,334.4 381.7,336.4 378.8,335.5 378.1,332.6 380.3,330.6 383.2,331.5" fill="#3a68a4"/><polygon points="315.0,483.3 312.9,485.3 310.2,484.4 309.5,481.7 311.6,479.7 314.3,480.6" fill="#5787bd"/><polygon points="229.9,349.5 227.5,351.7 224.4,350.7 223.6,347.5 226.0,345.3 229.1,346.3" fill="#3a68a4"/><polygon points="232.4,385.7 230.0,387.9 226.9,387.0 226.1,383.8 228.5,381.6 231.6,382.5" fill="#3a68a4"/><polygon points="206.1,392.0 203.7,394.2 200.6,393.2 199.9,390.0 202.3,387.8 205.4,388.8" fill="#3a68a4"/><polygon points="199.5,406.8 197.4,408.8 194.7,407.9 194.0,405.2 196.1,403.2 198.8,404.1" fill="#3a68a4"/><polygon points="219.5,405.6 217.4,407.5 214.7,406.7 214.0,403.9 216.1,402.0 218.8,402.8" fill="#3a68a4"/><polygon points="246.1,362.0 243.7,364.2 240.6,363.2 239.9,360.0 242.3,357.8 245.4,358.8" fill="#5787bd"/><polygon points="233.6,392.0 231.2,394.2 228.1,393.2 227.4,390.0 229.8,387.8 232.9,388.8" fill="#5787bd"/><polygon points="388.7,296.8 386.6,298.8 383.9,297.9 383.3,295.2 385.4,293.2 388.1,294.1" fill="#0f4a88"/><polygon points="393.9,336.9 391.7,338.9 388.8,338.0 388.1,335.1 390.3,333.1 393.2,334.0" fill="#5787bd"/><polygon points="371.4,374.4 369.2,376.4 366.3,375.5 365.6,372.6 367.8,370.6 370.7,371.5" fill="#72a5d2"/><polygon points="183.0,304.9 180.7,307.0 177.7,306.1 177.0,303.1 179.3,301.0 182.3,301.9" fill="#3a68a4"/><polygon points="201.7,329.8 199.6,331.8 196.9,330.9 196.3,328.2 198.4,326.2 201.1,327.1" fill="#3a68a4"/><polygon points="341.0,379.0 346.0,378.0 351.0,392.0 349.0,398.0 344.0,396.0 342.0,388.0" fill="#5787bd"/><polygon points="317.9,215.9 315.7,217.9 312.8,217.0 312.1,214.1 314.3,212.1 317.2,213.0" fill="#0f4a88"/><polygon points="331.3,101.0 329.4,102.8 326.9,102.0 326.3,99.5 328.2,97.7 330.7,98.5" fill="#3a68a4"/><polygon points="304.4,85.4 302.7,87.0 300.5,86.3 300.0,84.1 301.7,82.5 303.9,83.2" fill="#3a68a4"/><polygon points="388.4,81.1 386.6,82.8 384.2,82.1 383.6,79.7 385.4,78.0 387.8,78.7" fill="#3a68a4"/></g><g fill="none" stroke="#fff" stroke-width="2.9" stroke-linejoin="round" stroke-linecap="round"><polyline points="262.0,96.0 267.2,97.2 273.5,98.5 278.5,103.5 283.5,111.0 288.5,117.2 293.5,121.0 296.0,126.0 301.0,128.5 306.0,129.8 311.0,128.5 316.0,129.8 320.0,131.0 329.4,131.7"/><polyline points="292.2,116.0 298.0,112.0 306.0,108.5 311.0,114.8 311.0,126.0 306.0,127.2 299.8,126.0 296.0,123.5 292.2,116.0"/><polyline points="339.8,90.7 336.4,91.6 333.8,98.4 335.5,107.0 339.8,112.2 336.4,119.0 331.2,124.2 327.0,129.4 329.4,131.7"/><polyline points="329.4,131.7 338.8,134.8 343.4,140.3 351.2,147.3 357.5,151.2"/><polyline points="357.5,151.2 357.5,148.1 365.3,140.3 374.7,138.8 382.5,134.0 391.9,132.5 401.2,137.2 420.0,144.0 431.2,138.8 436.9,136.9 444.4,127.5 453.8,121.9 465.0,124.7 469.7,132.2 476.2,131.2"/><polyline points="357.5,151.2 363.8,153.6 371.6,157.5 379.4,162.2 388.8,164.5 391.9,168.4 391.1,179.4 388.8,185.6 393.4,191.9 393.8,200.0 392.5,210.0 398.8,218.8 406.2,222.5 412.5,222.5 421.2,226.2 430.0,230.0 431.2,240.0 426.2,243.8"/><polyline points="362.2,154.4 362.2,159.0 354.4,163.8 341.9,162.2 332.5,166.9 335.6,176.2 340.3,185.6 341.9,193.4 344.2,199.7 343.4,207.5 341.2,217.8 327.2,221.0 325.6,230.3 328.8,241.2 330.3,247.5"/><polyline points="426.2,243.8 417.5,242.5 408.8,245.0 392.5,251.2 392.5,256.2 394.0,265.6 393.3,273.4 395.6,281.2 396.2,287.5"/><polyline points="426.2,243.8 433.8,252.5 435.0,260.0 441.2,256.2 447.5,260.0 460.0,261.2 467.5,258.1 473.1,248.8 486.2,246.9 497.5,244.0"/><polyline points="330.3,247.5 337.8,248.4 342.5,256.2 345.6,261.0 356.6,264.0 361.2,268.8 359.7,273.4 365.0,279.0 376.2,284.4 383.8,287.5 385.6,290.6 393.8,290.0 396.2,287.5"/><polyline points="396.2,287.5 401.2,282.5 407.5,285.0 411.2,291.2 410.0,293.8 401.2,297.5 395.0,300.0 393.8,305.0 397.5,311.2 387.5,315.0 382.5,316.2 381.2,320.0 383.8,326.2"/><polyline points="383.8,326.2 391.2,335.0 398.0,338.8"/><polyline points="303.4,318.1 311.2,321.2 317.5,326.0 323.8,330.6 326.9,338.4 331.6,333.8 334.7,329.8 342.5,329.0 348.8,332.2 351.9,336.9 353.4,327.5 356.6,322.8 361.2,321.2 364.4,326.0 372.5,328.8 383.8,326.2"/><polyline points="330.3,247.5 316.2,250.6 302.2,260.0 297.5,263.1"/><polyline points="277.2,243.5 286.6,247.5 286.6,255.3 285.0,261.6 297.5,263.1"/><polyline points="297.5,263.1 302.2,269.4 310.0,275.6 308.4,285.0 303.4,290.0 300.3,299.4 297.2,310.3 303.4,318.1"/><polyline points="303.4,318.1 292.5,327.5 286.2,336.9 281.2,341.0 276.6,347.2 267.2,345.6 262.5,348.8 265.6,356.6 268.8,365.9 273.4,367.5 275.0,372.2"/><polyline points="232.8,373.8 239.0,380.0 242.2,381.6 246.9,384.7 250.0,389.4 253.1,387.8 261.0,378.4 264.0,376.9 270.3,375.3 275.0,372.2"/><polyline points="275.0,372.2 284.4,369.1 289.4,372.8 294.0,379.0 297.0,384.0 299.7,387.8 304.4,386.2 307.5,395.6 307.5,408.1 312.2,415.9 316.9,422.2 320.0,426.9 320.0,439.4 316.9,442.5 312.2,444.1 310.6,451.9 302.8,456.6 299.7,461.2 302.8,470.6 305.5,478.0 305.5,491.2 303.9,500.6 304.7,506.9 296.9,510.0 289.0,511.6 281.2,516.5"/><polyline points="231.2,373.8 232.8,380.0 235.9,389.4 235.2,398.8 231.2,408.1 226.6,417.5 222.0,424.0"/><polyline points="221.2,306.0 219.7,313.8 216.6,320.0 218.1,326.2 220.3,330.0 218.8,336.2 212.5,339.4 209.4,347.2 212.5,351.9 223.4,353.4 229.7,356.6 232.8,361.2 233.6,369.1 231.2,373.8 232.8,373.8"/><polyline points="148.0,325.0 156.5,327.5 164.0,325.0 170.2,320.0 174.0,313.8 184.0,310.0 190.0,306.0 199.4,302.8 207.2,296.6 211.9,291.9 215.0,296.6 221.2,306.0"/><polyline points="221.2,306.0 222.8,306.0 225.9,299.7 233.8,293.4 238.4,287.2 240.0,281.0 244.7,279.4 249.4,274.7 243.1,270.0 251.2,262.8 260.6,256.6 266.2,256.9 272.5,250.6 277.2,243.5"/><polyline points="182.4,202.5 193.4,198.8 205.9,191.0 212.2,195.6 216.9,197.2 218.4,206.6 216.9,211.2 220.0,217.5 229.4,215.9 237.2,211.2 240.3,206.6 238.8,198.8 234.0,192.5 241.9,187.8 249.7,189.4 257.5,187.8 263.8,189.4 265.3,194.0 260.6,200.3 260.6,208.1 263.8,214.4 269.4,216.2 274.0,225.6 278.8,233.4 277.2,243.5"/><polyline points="145.6,381.6 154.1,381.6 163.4,379.7 170.9,377.3 175.6,376.9 181.2,379.7 185.0,383.4 185.0,389.0 187.8,392.8 186.9,397.5 185.0,403.1 185.9,410.0"/><polyline points="248.0,145.0 255.0,145.2 260.0,147.6 262.0,152.5 257.0,155.2 251.0,153.4 248.0,145.0"/><polyline points="241.7,141.0 246.0,143.0 249.0,145.0"/><polyline points="428.5,181.0 435.0,178.5 442.5,178.0 449.0,182.5 452.5,189.5 450.5,195.0 442.5,193.0 435.0,192.5 430.0,192.0 427.5,187.0 428.5,181.0"/></g>
<rect x="20.0" y="556" width="113.9" height="26" fill="#8fc4e8"/><rect x="136.1" y="556" width="113.8" height="26" fill="#72a5d2"/><rect x="252.1" y="556" width="113.8" height="26" fill="#5787bd"/><rect x="368.0" y="556" width="113.8" height="26" fill="#3a68a4"/><rect x="484.0" y="556" width="114.0" height="26" fill="#0f4a88"/><text x="111.20" y="603.8" font-family="'Liberation Sans', sans-serif" font-size="22.6" textLength="27.62" lengthAdjust="spacingAndGlyphs" fill="#1a1a1a">3,8</text><text x="146.15" y="603.8" font-family="'Liberation Sans', sans-serif" font-size="20.1" textLength="13.68" lengthAdjust="spacingAndGlyphs" fill="#1a1a1a">%</text><text x="227.97" y="603.8" font-family="'Liberation Sans', sans-serif" font-size="22.6" textLength="26.93" lengthAdjust="spacingAndGlyphs" fill="#1a1a1a">5,2</text><text x="262.67" y="603.8" font-family="'Liberation Sans', sans-serif" font-size="20.1" textLength="13.18" lengthAdjust="spacingAndGlyphs" fill="#1a1a1a">%</text><text x="342.84" y="603.8" font-family="'Liberation Sans', sans-serif" font-size="22.6" textLength="24.44" lengthAdjust="spacingAndGlyphs" fill="#1a1a1a">7,0</text><text x="378.64" y="603.8" font-family="'Liberation Sans', sans-serif" font-size="20.1" textLength="13.04" lengthAdjust="spacingAndGlyphs" fill="#1a1a1a">%</text><text x="459.31" y="603.8" font-family="'Liberation Sans', sans-serif" font-size="22.6" textLength="28.02" lengthAdjust="spacingAndGlyphs" fill="#1a1a1a">9,5</text><text x="494.51" y="603.8" font-family="'Liberation Sans', sans-serif" font-size="20.1" textLength="14.57" lengthAdjust="spacingAndGlyphs" fill="#1a1a1a">%</text>
</svg></body></html>
